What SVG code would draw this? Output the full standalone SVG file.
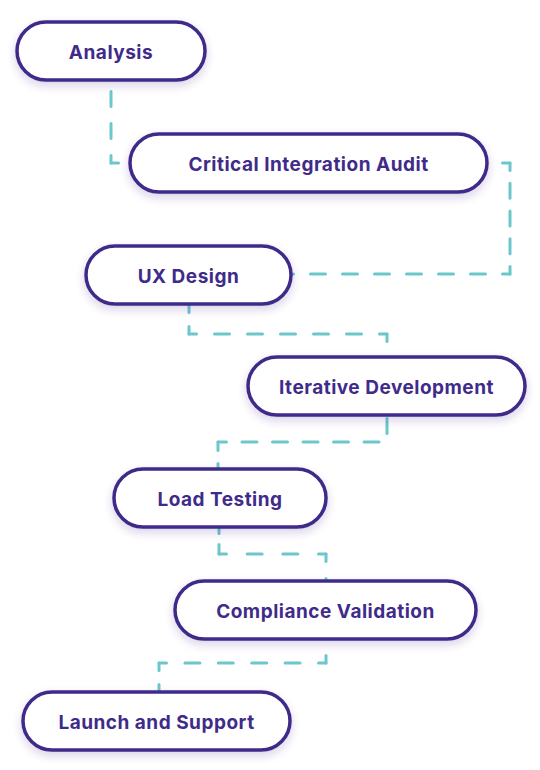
<svg xmlns="http://www.w3.org/2000/svg" width="540" height="770" viewBox="0 0 540 770">
  <defs>
    <filter id="sh" x="-20%" y="-30%" width="140%" height="170%">
      <feDropShadow dx="0" dy="4" stdDeviation="4" flood-color="#3F2B89" flood-opacity="0.2"/>
    </filter>
  </defs>
  <style>
    .node rect { fill: #ffffff; stroke: #3F2B89; stroke-width: 3.5; filter: url(#sh); }
    .node text { font-family: Inter, "Noto Sans", sans-serif; font-weight: 700; font-size: 19px; letter-spacing: 0.5px; fill: #3F2B89; text-anchor: middle; }
    .c line { stroke: #6CC7CC; stroke-width: 3; stroke-linecap: round; fill: none; stroke-dasharray: 15 17; stroke-dashoffset: 7.5; }
  </style>
  <rect width="540" height="770" fill="#ffffff"/>
  <g id="connectors" class="c">
    <g id="c1">
      <line x1="111" y1="163" x2="111" y2="81"/>
      <line x1="111" y1="163" x2="130" y2="163"/>
    </g>
    <g id="c2">
      <line x1="510" y1="274" x2="293" y2="274"/>
      <line x1="510" y1="274" x2="510" y2="163" style="stroke-dasharray:15 12.75"/>
      <line x1="510" y1="163" x2="488" y2="163"/>
    </g>
    <g id="c3">
      <line x1="189" y1="334" x2="189" y2="305" style="stroke-dasharray:15 14"/>
      <line x1="189" y1="334" x2="387" y2="334" style="stroke-dasharray:15 18"/>
      <line x1="387" y1="334" x2="387" y2="357"/>
    </g>
    <g id="c4">
      <line x1="387" y1="417" x2="387" y2="442" style="stroke-dashoffset:-1.5"/>
      <line x1="218" y1="442" x2="387" y2="442" style="stroke-dasharray:15 15.5;stroke-dashoffset:6.5"/>
      <line x1="218" y1="442" x2="218" y2="469" style="stroke-dasharray:15 13;stroke-dashoffset:6.5"/>
    </g>
    <g id="c5">
      <line x1="219" y1="554" x2="219" y2="529" style="stroke-dasharray:15 11;stroke-dashoffset:5.5"/>
      <line x1="219" y1="554" x2="326" y2="554" style="stroke-dasharray:15 20.67"/>
      <line x1="326" y1="554" x2="326" y2="581"/>
    </g>
    <g id="c6">
      <line x1="326" y1="663" x2="326" y2="639"/>
      <line x1="326" y1="663" x2="159" y2="663" style="stroke-dasharray:15 18.4"/>
      <line x1="159" y1="663" x2="159" y2="692" style="stroke-dasharray:15 14"/>
    </g>
  </g>
  <g id="n1" class="node">
    <rect x="17" y="22" width="188" height="58" rx="29"/>
    <text x="111" y="58.5">Analysis</text>
  </g>
  <g id="n2" class="node">
    <rect x="130" y="134" width="357" height="58" rx="29"/>
    <text x="308.5" y="170.5">Critical Integration Audit</text>
  </g>
  <g id="n3" class="node">
    <rect x="86" y="246" width="205" height="58" rx="29"/>
    <text x="188.5" y="282.5">UX Design</text>
  </g>
  <g id="n4" class="node">
    <rect x="248" y="357" width="277" height="58" rx="29"/>
    <text x="386.5" y="393.5">Iterative Development</text>
  </g>
  <g id="n5" class="node">
    <rect x="114" y="469" width="212" height="58" rx="29"/>
    <text x="220" y="505.5">Load Testing</text>
  </g>
  <g id="n6" class="node">
    <rect x="175" y="581" width="301" height="58" rx="29"/>
    <text x="325.5" y="617.5">Compliance Validation</text>
  </g>
  <g id="n7" class="node">
    <rect x="23" y="692" width="267" height="58" rx="29"/>
    <text x="156.5" y="728.5">Launch and Support</text>
  </g>
</svg>
